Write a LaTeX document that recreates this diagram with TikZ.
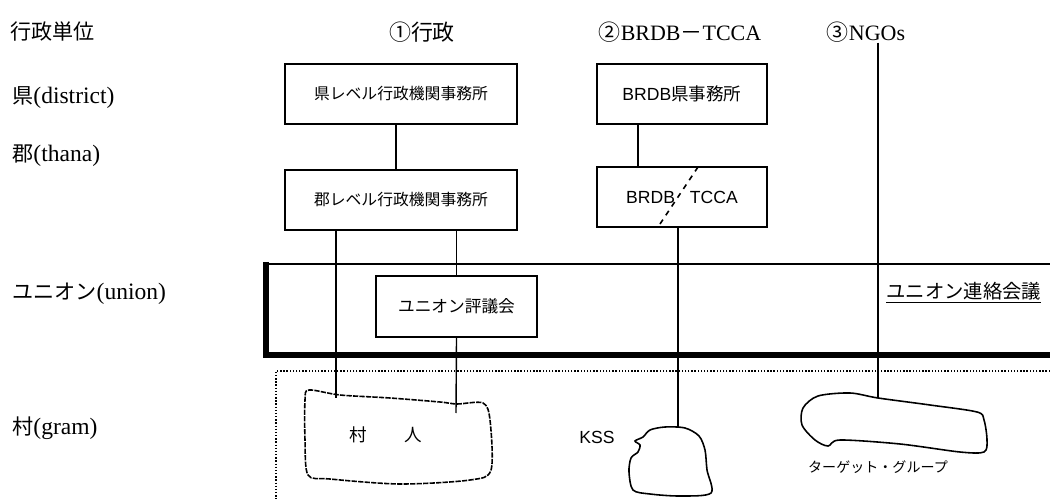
\documentclass[tikz,border=0pt]{standalone}
\usepackage{fontspec}
\setmainfont{Liberation Serif}
\setsansfont{Liberation Sans}
\newfontfamily\cjk{Noto Sans CJK JP}
\newcommand{\latn}[1]{{\fontsize{13.4}{15}\selectfont #1}}
\tikzset{
  level/.style={anchor=west, inner sep=0pt, font=\fontsize{12}{14}\selectfont},
  head/.style={inner sep=0pt, font=\fontsize{12.5}{14}\selectfont},
  office/.style={draw, line width=1pt, minimum height=1.2cm, inner sep=0pt,
    font=\cjk\fontsize{9}{11}\selectfont},
  brdb/.style={office, minimum width=3.4cm, font=\sffamily\fontsize{10}{12}\selectfont},
  blob/.style={line width=0.9pt},
  link/.style={line width=0.8pt},
}
\begin{document}
\begin{tikzpicture}[x=0.02cm, y=-0.02cm]
\useasboundingbox (0,0) rectangle (1050,499);
% administrative levels
\node[level] (lv0) at (10,32) {{\cjk 行政単位}};
\node[level] (lv1) at (12,98) {{\cjk 県}\latn{(district)}};
\node[level] (lv2) at (12,156) {{\cjk 郡}\latn{(thana)}};
\node[level] (lv3) at (12,294) {{\cjk ユニオン}\latn{(union)}};
\node[level] (lv4) at (12,428) {{\cjk 村}\latn{(gram)}};
% channels
\node[head] (h1) at (422,32) {{\cjk ①行政}};
\node[head] (h2) at (680,32) {{\cjk ②}BRDB{\cjk －}TCCA};
\node[head] (h3) at (866,32) {{\cjk ③}NGOs};
% union and village frames
\draw[line width=1pt] (266,264) -- (1050,264);
\draw[line width=3pt] (266,262) -- (266,355) -- (1050,355);
\draw[densely dotted, line width=0.8pt] (1050,371) -- (276,371) -- (276,499);
% offices
\node[office, minimum width=4.64cm] (k1) at (401,94) {県レベル行政機関事務所};
\node[office, minimum width=4.64cm] (k2) at (401,200) {郡レベル行政機関事務所};
\node[brdb] (b1) at (682,94) {BRDB{\cjk 県事務所}};
\node[brdb] (b2) at (682,197) {BRDB\hspace{0.3cm}TCCA};
\draw[dashed, line width=0.9pt] (698,167) -- (658,227);
\node[office, minimum width=3.22cm, minimum height=1.22cm,
  font=\cjk\fontsize{9.5}{11}\selectfont] (uc) at (456.5,306.5) {ユニオン評議会};
\node[anchor=west, inner sep=0pt, font=\cjk\fontsize{11}{13}\selectfont]
  (ul) at (886,293) {\underline{ユニオン連絡会議}};
% target groups
\draw[blob, dash pattern=on 3pt off 0.7pt] plot[smooth cycle, tension=0.5] coordinates {
  (309,390) (340,395) (390,398) (440,402) (457,404) (483,403) (490,420)
  (491,470) (470,480) (400,484) (330,479) (308,475) (305,440) (305,400)};
\node[font=\cjk\fontsize{10}{12}\selectfont] (vp) at (386,435) {村\hspace{0.75cm}人};
\draw[blob] plot[smooth cycle, tension=0.5] coordinates {
  (650,430) (665,427) (685,428) (699,436) (705,450) (707,470) (711,493)
  (680,496) (650,494) (633,490) (629,472) (631,458) (638,452) (640,445)
  (635,441) (643,437)};
\node[font=\sffamily\fontsize{10}{12}\selectfont] (kss) at (597,437) {KSS};
\draw[blob] plot[smooth cycle, tension=0.5] coordinates {
  (850,393) (878,398) (930,405) (977,412) (984,420) (987,440) (984,452)
  (960,452) (900,444) (840,440) (828,446) (815,440) (802,425) (803,408)
  (818,396)};
\node[font=\cjk\fontsize{8}{10}\selectfont] (tg) at (878,467) {ターゲット・グループ};
% connectors
\coordinate (v1) at (336,398);
\coordinate (v2) at (456,413);
\coordinate (s1) at (678,428);
\coordinate (t1) at (878,398);
\draw[link] ([xshift=-0.1cm]k1.south) -- ([xshift=-0.1cm]k2.north);
\draw[link] (k2.south -| v1) -- (v1);
\draw[link] (k2.south -| uc) -- (uc.north);
\draw[link] (uc.south) -- (v2);
\draw[link] ([xshift=-0.88cm]b1.south) -- ([xshift=-0.88cm]b2.north);
\draw[link] (b2.south -| s1) -- (s1);
\draw[link] (h3.south -| t1) -- (t1);
\end{tikzpicture}
\end{document}
